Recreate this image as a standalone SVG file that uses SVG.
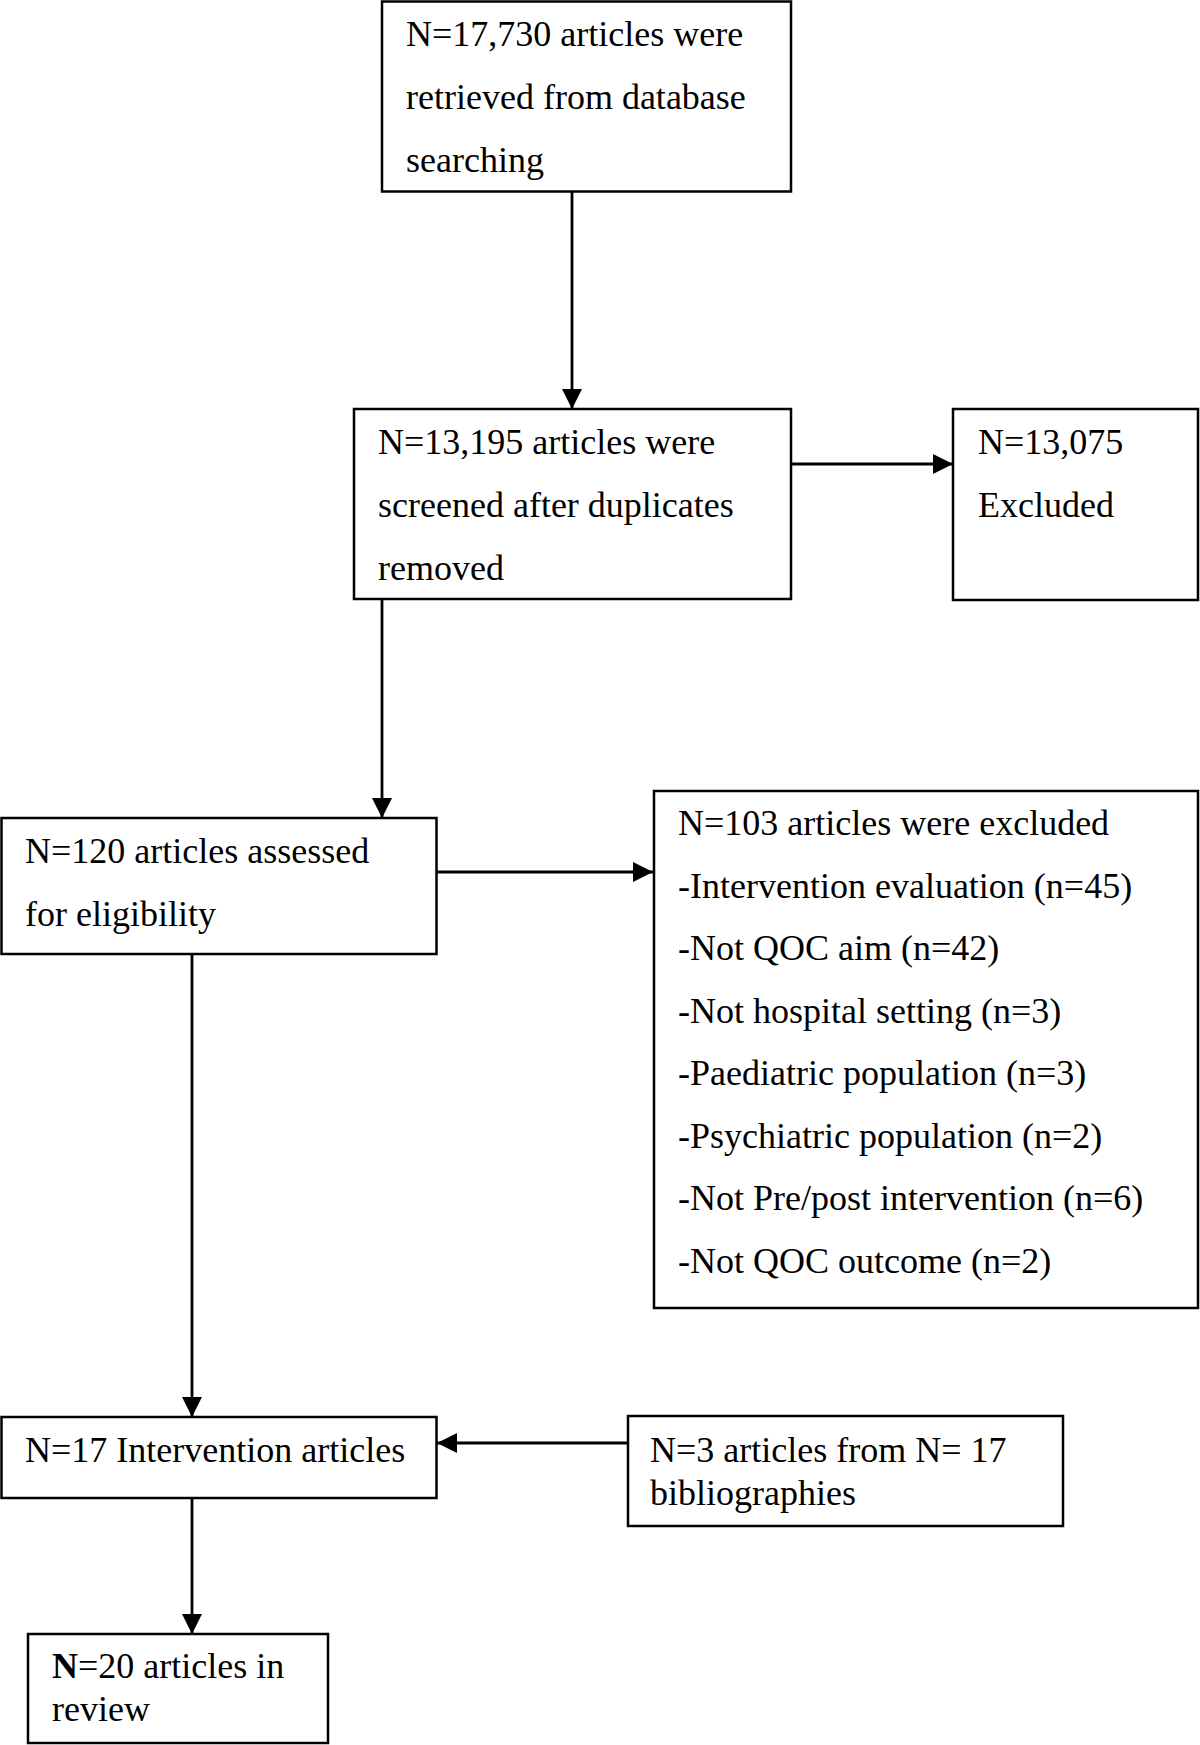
<svg xmlns="http://www.w3.org/2000/svg" width="1200" height="1745" viewBox="0 0 1200 1745">
<style>
  .box { fill: #fff; stroke: #000; stroke-width: 2.5; }
  .t { font-family: "Liberation Serif", "Times New Roman", serif; font-size: 36px; fill: #000; }
  .c { fill: none; stroke: #000; stroke-width: 2.8; }
</style>
<defs>
  <marker id="arr" markerUnits="userSpaceOnUse" markerWidth="20" markerHeight="20" viewBox="0 0 18 18" refX="18" refY="9" orient="auto">
    <path d="M0,0 L18,9 L0,18 Z" fill="#000"/>
  </marker>
</defs>
<rect width="1200" height="1745" fill="#fff"/>
<g id="connectors">
  <line class="c" x1="572" y1="192" x2="572" y2="409" marker-end="url(#arr)"/>
  <line class="c" x1="791" y1="464" x2="953" y2="464" marker-end="url(#arr)"/>
  <line class="c" x1="382" y1="599" x2="382" y2="818" marker-end="url(#arr)"/>
  <line class="c" x1="437" y1="872" x2="653" y2="872" marker-end="url(#arr)"/>
  <line class="c" x1="192" y1="954" x2="192" y2="1417" marker-end="url(#arr)"/>
  <line class="c" x1="628" y1="1443" x2="437" y2="1443" marker-end="url(#arr)"/>
  <line class="c" x1="192" y1="1498" x2="192" y2="1634" marker-end="url(#arr)"/>
</g>
<g id="n1">
  <rect class="box" x="382" y="1.5" width="409" height="190"/>
  <text class="t" x="406" y="46">N=17,730 articles were</text>
  <text class="t" x="406" y="109">retrieved from database</text>
  <text class="t" x="406" y="172">searching</text>
</g>
<g id="n2">
  <rect class="box" x="354" y="409" width="437" height="190"/>
  <text class="t" x="378" y="454">N=13,195 articles were</text>
  <text class="t" x="378" y="517">screened after duplicates</text>
  <text class="t" x="378" y="580">removed</text>
</g>
<g id="n3">
  <rect class="box" x="953" y="409" width="245" height="191"/>
  <text class="t" x="978" y="454">N=13,075</text>
  <text class="t" x="978" y="517">Excluded</text>
</g>
<g id="n4">
  <rect class="box" x="1.5" y="818" width="435" height="136"/>
  <text class="t" x="25" y="863">N=120 articles assessed</text>
  <text class="t" x="25" y="926">for eligibility</text>
</g>
<g id="n5">
  <rect class="box" x="654" y="791" width="544" height="517"/>
  <text class="t" x="678" y="835">N=103 articles were excluded</text>
  <text class="t" x="678" y="898">-Intervention evaluation (n=45)</text>
  <text class="t" x="678" y="960">-Not QOC aim (n=42)</text>
  <text class="t" x="678" y="1023">-Not hospital setting (n=3)</text>
  <text class="t" x="678" y="1085">-Paediatric population (n=3)</text>
  <text class="t" x="678" y="1148">-Psychiatric population (n=2)</text>
  <text class="t" x="678" y="1210">-Not Pre/post intervention (n=6)</text>
  <text class="t" x="678" y="1273">-Not QOC outcome (n=2)</text>
</g>
<g id="n6">
  <rect class="box" x="1.5" y="1417" width="435" height="81"/>
  <text class="t" x="25" y="1462">N=17 Intervention articles</text>
</g>
<g id="n7">
  <rect class="box" x="628" y="1416" width="435" height="110"/>
  <text class="t" x="650" y="1462">N=3 articles from N= 17</text>
  <text class="t" x="650" y="1505">bibliographies</text>
</g>
<g id="n8">
  <rect class="box" x="28" y="1634" width="300" height="109"/>
  <text class="t" x="52" y="1678"><tspan font-weight="bold">N</tspan>=20 articles in</text>
  <text class="t" x="52" y="1721">review</text>
</g>
</svg>
